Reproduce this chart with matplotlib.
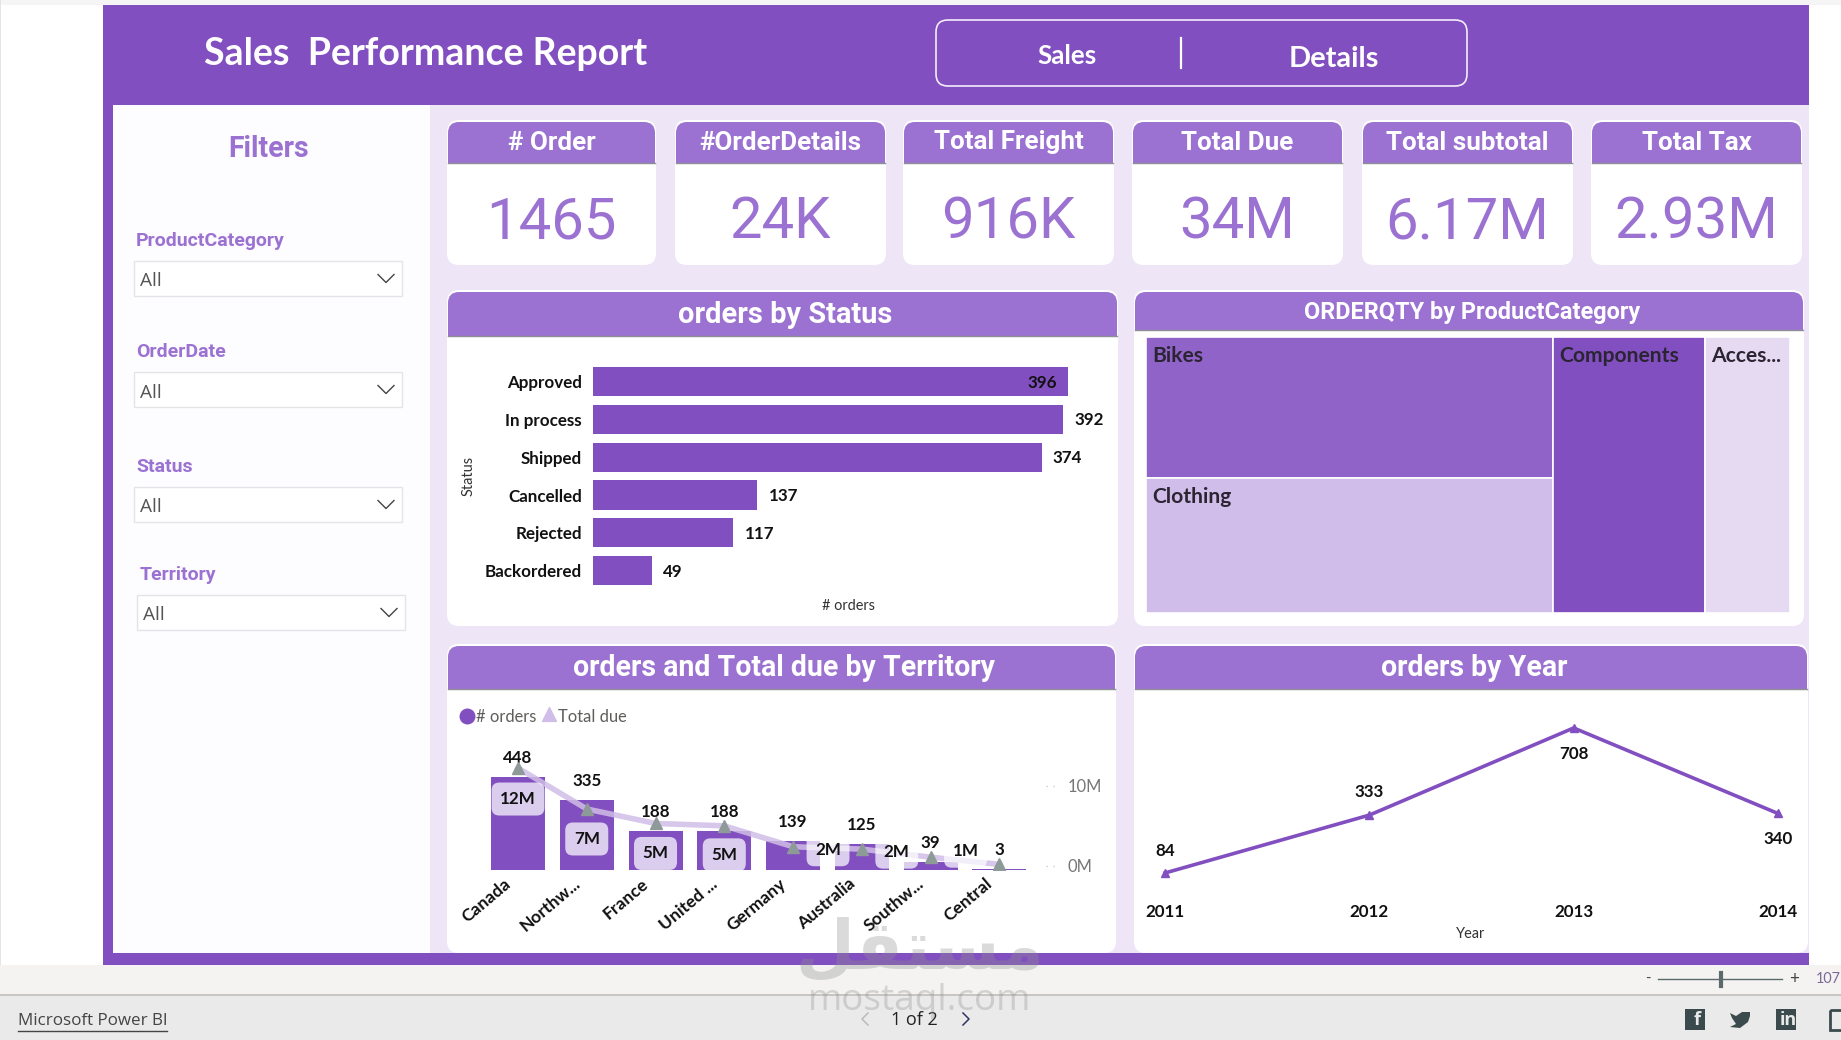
import matplotlib
matplotlib.use("Agg")
import matplotlib.pyplot as plt
from matplotlib.patches import FancyBboxPatch, Rectangle, Polygon
from matplotlib.transforms import ScaledTranslation

W, H = 1841, 1040
PURPLE = "#824FC0"
HEAD = "#9B72D2"
LAV = "#EEE6F7"
DARK = "#111111"

NARROW = ["Roboto"]
UI = ["Lato", "DejaVu Sans"]

# Dashboard figures
kpi_titles = ["# Order", "#OrderDetails", "Total Freight", "Total Due", "Total subtotal", "Total Tax"]
kpi_values = ["1465", "24K", "916K", "34M", "6.17M", "2.93M"]

status_names = ["Approved", "In process", "Shipped", "Cancelled", "Rejected", "Backordered"]
status_orders = [396, 392, 374, 137, 117, 49]

product_names = ["Bikes", "Clothing", "Components", "Acces..."]
product_qty = [32.2, 30.9, 23.6, 13.2]

territory_names = ["Canada", "Northw...", "France", "United ...", "Germany", "Australia", "Southw...", "Central"]
territory_orders = [448, 335, 188, 188, 139, 125, 39, 3]
territory_due_m = [12.2, 7.1, 5.3, 5.0, 2.4, 2.1, 1.1, 0.2]

years = [2011, 2012, 2013, 2014]
year_orders = [84, 333, 708, 340]

filter_names = ["ProductCategory", "OrderDate", "Status", "Territory"]

fig = plt.figure(figsize=(W / 100, H / 100), dpi=100, facecolor="white")
base = fig.add_axes([0, 0, 1, 1])
base.set_xlim(0, W)
base.set_ylim(H, 0)
base.axis("off")


def fs(px):
    return px * 0.72


def rect(x0, y0, x1, y1, color, z=1, **kw):
    base.add_patch(Rectangle((x0, y0), x1 - x0, y1 - y0, fc=color, ec="none", zorder=z, **kw))


def label(x, y, s, px, color=DARK, family=UI, weight="normal", ha="center", z=8, **kw):
    return base.text(x, y, s, fontsize=fs(px), color=color, family=family, weight=weight,
                     ha=ha, va="center", zorder=z, **kw)


def card(x0, y0, x1, y1, head_bottom, title, title_px):
    base.add_patch(FancyBboxPatch((x0 + 10, y0 + 10), x1 - x0 - 20, y1 - y0 - 20,
                                  boxstyle="round,pad=10,rounding_size=12",
                                  fc="white", ec="none", zorder=2))
    head = FancyBboxPatch((x0 + 11, y0 + 12), x1 - x0 - 22, y1 - y0 - 24,
                          boxstyle="round,pad=10,rounding_size=11",
                          fc=HEAD, ec="none", zorder=3)
    base.add_patch(head)
    head.set_clip_path(Rectangle((x0, y0), x1 - x0, head_bottom - y0, transform=base.transData))
    base.plot([x0 + 1, x1 - 1], [head_bottom, head_bottom], color="#8E8E96", lw=1, zorder=4)
    wide = x1 - x0 > 300
    label((x0 + x1) / 2 + (3 if wide else 0), (y0 + head_bottom) / 2 + (2 if wide else 1),
          title, title_px, "white", NARROW, "bold")


def axes_px(x0, y0, x1, y1):
    ax = fig.add_axes([x0 / W, 1 - y1 / H, (x1 - x0) / W, (y1 - y0) / H])
    ax.patch.set_alpha(0)
    for s in ax.spines.values():
        s.set_visible(False)
    return ax


# Page chrome
rect(0, 0, W, 5, "#F5F5F5")
rect(0, 0, 1, 965, "#E4E4E4")
rect(103, 5, 1809, 105, PURPLE)
rect(103, 105, 113, 965, PURPLE)
rect(113, 105, 430, 953, "#FDFCFF")
rect(430, 105, 1809, 953, LAV)
rect(113, 953, 1809, 965, PURPLE)
rect(0, 965, W, 994, "#F4F3F2")
rect(0, 994, W, 1040, "#EAEAEA")
rect(0, 994, W, 995.5, "#C8C6C4")

# Header
label(204, 54, "Sales  Performance Report", 37.5, "white", ["Lato"], "bold", ha="left")
base.add_patch(FancyBboxPatch((948, 32), 507, 42, boxstyle="round,pad=12,rounding_size=12",
                              fc="none", ec="#F3EDFA", lw=1.2, zorder=5))
label(1067, 56, "Sales", 26, "white", ["Lato"], "bold")
label(1334, 59, "Details", 29, "white", ["Lato"], "bold")
base.plot([1181, 1181], [38, 68], color="white", lw=1.6, zorder=6)

# Slicer column
label(269, 149, "Filters", 28.5, HEAD, NARROW, "bold")
slicer_rows = [(136, 134, 261, 296), (136, 134, 372, 407), (136, 134, 487, 522), (140, 137, 595, 630)]
for name, (tx, bx, by0, by1) in zip(filter_names, slicer_rows):
    label(tx, by0 - 20, name, 19.5, HEAD, NARROW, "bold", ha="left")
    base.add_patch(Rectangle((bx, by0), 268, by1 - by0, fc="white", ec="#E5E3E8", lw=1, zorder=3))
    label(bx + 6, (by0 + by1) / 2 + 3, "All", 19, "#555555", ["Open Sans"], ha="left")
    cx = bx + 252
    cy = (by0 + by1) / 2
    base.plot([cx - 8, cx, cx + 8], [cy - 4, cy + 4, cy - 4], color="#444444", lw=1, zorder=6)

# KPI cards
kpi_lefts = [447, 675, 903, 1132, 1362, 1591]
kpi_rights = [656, 886, 1114, 1343, 1573, 1802]
for title, value, x0, x1 in zip(kpi_titles, kpi_values, kpi_lefts, kpi_rights):
    card(x0, 120, x1, 265, 163, title, 26)
    label((x0 + x1) / 2, 223, value, 58, HEAD, NARROW, "normal")

# Status bars
card(447, 290, 1118, 626, 336, "orders by Status", 29)
ax = axes_px(593, 363, 1100, 590)
pos = list(range(len(status_names)))
ax.barh(pos, status_orders, height=0.77, color=PURPLE)
ax.set_xlim(0, 507 / 1.2)
ax.set_ylim(5.51, -0.49)
ax.set_xticks([])
ax.set_yticks(pos, status_names, fontfamily=UI, fontweight="bold", fontsize=fs(17), color=DARK)
ax.tick_params(axis="y", length=0, pad=8)
for p, v in zip(pos, status_orders):
    inside = v == max(status_orders)
    ax.annotate(str(v), (v, p), xytext=(-11 if inside else 11, -1), textcoords="offset pixels",
                ha="right" if inside else "left", va="center", family=UI, weight="bold",
                fontsize=fs(17), color=DARK)
label(469, 476, "Status", 14.5, "#333333", rotation=90)
label(849, 606, "# orders", 14.5, "#333333")

# Treemap, laid out from the category shares
card(1134, 290, 1804, 626, 330, "ORDERQTY by ProductCategory", 23.5)
ax = axes_px(1146, 337, 1790, 613)
ax.set_xlim(0, 1)
ax.set_ylim(1, 0)
ax.set_xticks([])
ax.set_yticks([])
total = sum(product_qty)
col_share = (product_qty[0] + product_qty[1]) / total
split = product_qty[0] / (product_qty[0] + product_qty[1])
comp_share = product_qty[2] / total
acc_share = product_qty[3] / total
tiles = [(0, 0, col_share, split, "#9063C8"),
         (0, split, col_share, 1 - split, "#D1BDE9"),
         (col_share, 0, comp_share, 1, PURPLE),
         (col_share + comp_share, 0, acc_share, 1, "#E6D9F2")]
for name, (x, y, w, h, c) in zip(product_names, tiles):
    ax.add_patch(Rectangle((x, y), w, h, fc=c, ec="white", lw=1.2))
    ax.annotate(name, (x, y), xytext=(6, -19), textcoords="offset pixels", va="center",
                family=UI, weight="bold", fontsize=fs(21), color="#2B2433")

# Territory combo chart
card(447, 644, 1116, 953, 689, "orders and Total due by Territory", 28.5)
base.scatter([467], [716], s=110, color=PURPLE, zorder=8)
label(476, 717, "# orders", 16.5, "#605E5C", ha="left")
base.scatter([549], [714], s=100, marker="^", color="#D0BDE8", zorder=8)
label(558, 717, "Total due", 16.5, "#605E5C", ha="left")

ax = axes_px(470, 745, 1062, 870)
x_pos = list(range(len(territory_names)))
ax.bar(x_pos, territory_orders, width=0.785, color=PURPLE)
ax.set_xlim(-48 / 68.76, (1062 - 518) / 68.76 - 0)
ax.set_ylim(0, 125 / 0.2076)
ax.set_yticks([])
ax.set_xticks(x_pos, territory_names, rotation=40, ha="right", rotation_mode="anchor",
              fontfamily=UI, fontweight="bold", fontsize=fs(17.5), color=DARK)
ax.tick_params(axis="x", length=0, pad=4)
nudge = ScaledTranslation(-14 / 100, 0, fig.dpi_scale_trans)
for tick_text in ax.get_xticklabels():
    tick_text.set_transform(tick_text.get_transform() + nudge)
for x, v in zip(x_pos, territory_orders):
    ax.annotate(str(v), (x, v), xytext=(0, 19), textcoords="offset pixels", ha="center",
                va="center", family=UI, weight="bold", fontsize=fs(17), color=DARK)

ax2 = ax.twinx()
ax2.patch.set_alpha(0)
for s in ax2.spines.values():
    s.set_visible(False)
ax2.set_ylim(-4 / 8.03, 121 / 8.03)
ax2.plot(x_pos, territory_due_m, color="#D0BDE8", lw=4, alpha=0.85, zorder=3)
ax2.plot(x_pos, territory_due_m, ls="none", marker="^", ms=9, color="#8E9A98", zorder=4)
ax2.set_yticks([0, 10], ["0M", "10M"], fontfamily=UI, fontsize=fs(16.5), color="#777777")
ax2.tick_params(axis="y", length=0, pad=4)
for yy in (866, 786):
    base.plot([1046, 1058], [yy, yy], color="#CCCCCC", lw=1, ls=(0, (1, 4)), zorder=8)
# Value tags sit below or beside each marker
tag_offsets = [(0, -31), (0, -30), (0, -30), (0, -29), (35, -3), (35, -3), (35, 6)]
for x, v, off in zip(x_pos, territory_due_m, tag_offsets):
    ax2.annotate(f"{v:.0f}M", (x, v), xytext=off, textcoords="offset pixels", ha="center",
                 va="center", family=UI, weight="bold", fontsize=fs(17), color=DARK, zorder=6,
                 bbox=dict(boxstyle="round,pad=0.5,rounding_size=0.45", fc="white", ec="none", alpha=0.72))

# Yearly trend
card(1134, 644, 1808, 953, 689, "orders by Year", 28.5)
ax = axes_px(1140, 700, 1800, 892.5)
ax.plot(years, year_orders, color=PURPLE, lw=2.6, marker="^", ms=6)
ax.set_xlim(2011 - 25 / 204.3, 2014 + 22 / 204.3)
ax.set_ylim(0, 192.5 / 0.2324)
ax.set_yticks([])
ax.set_xticks(years, [str(y) for y in years], fontfamily=UI, fontweight="bold",
              fontsize=fs(17), color=DARK)
ax.tick_params(axis="x", length=0, pad=8)
year_offsets = [22, 23, -26, -26]
for yr, v, off in zip(years, year_orders, year_offsets):
    ax.annotate(str(v), (yr, v), xytext=(0, off), textcoords="offset pixels", ha="center",
                va="center", family=UI, weight="bold", fontsize=fs(17), color=DARK)
label(1471, 934, "Year", 14.5, "#333333")

# Viewer footer
label(18, 1021, "Microsoft Power BI", 17, "#444444", ["Open Sans"], ha="left")
base.plot([18, 167], [1031, 1031], color="#444444", lw=1, zorder=8)
label(914, 1020, "1 of 2", 18, "#222222", ["Open Sans"])
base.plot([868, 862, 868], [1013, 1019, 1025], color="#BBBBBB", lw=1.1, zorder=8)
base.plot([963, 969, 963], [1013, 1019, 1025], color="#333366", lw=1.1, zorder=8)
base.plot([1658, 1782], [979, 979], color="#5B6A6A", lw=1, zorder=8)
base.plot([1721, 1721], [973, 986], color="#5B6A6A", lw=3, zorder=8)
label(1648, 979, "-", 15, "#444444")
label(1794, 979, "+", 17, "#444444")
label(1816, 979, "107", 14.5, "#7A6A95", ha="left")

for cx, glyph in [(1695, "f"), (1786, "in")]:
    rect(cx - 10, 1009, cx + 10, 1030, "#3B4A4C", z=8)
    label(cx + 2, 1020, glyph, 18, "#EAEAEA", ["Open Sans"], "bold", z=9)
base.add_patch(Polygon([(1730, 1013), (1736, 1016), (1742, 1012), (1750, 1012), (1750, 1016),
                        (1748, 1022), (1740, 1028), (1730, 1027), (1736, 1024), (1732, 1018)],
                       fc="#3B4A4C", ec="none", zorder=8))
base.add_patch(Rectangle((1830, 1010), 14, 20, fc="none", ec="#3B4A4C", lw=2, zorder=8))

# Site mark over the page
label(920, 950, "\ufede\ufed8\ufe98\ufeb4\ufee3", 68, "#8F8F8F", ["DejaVu Sans"], "bold", z=20, alpha=0.33)
label(920, 1001, "mostaql.com", 37, "#8F8F8F", ["Open Sans"], z=20, alpha=0.33)

fig.savefig("out.png", dpi=100, facecolor="white")
